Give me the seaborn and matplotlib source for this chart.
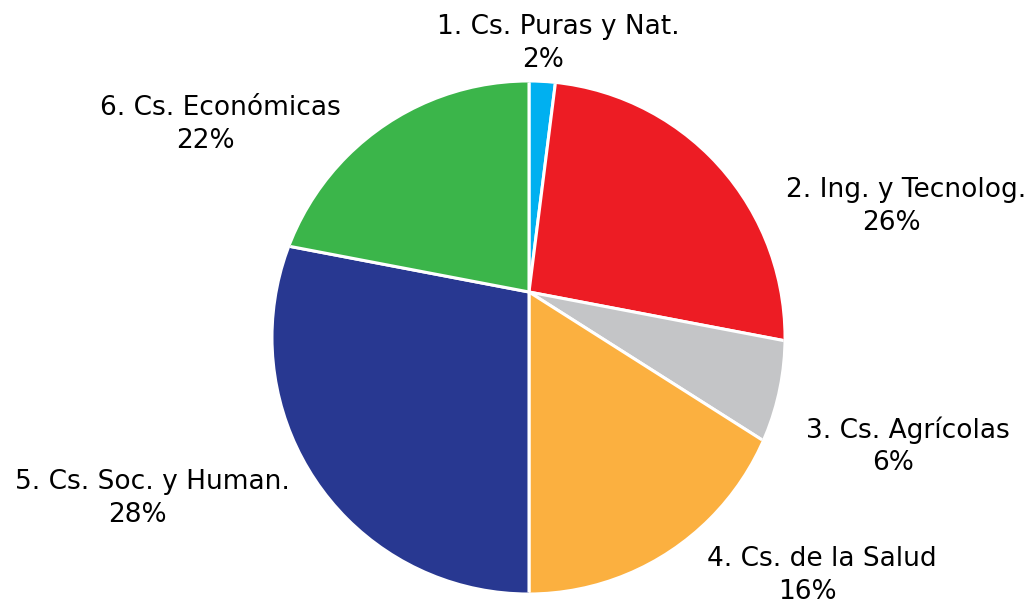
import matplotlib
matplotlib.use("Agg")
import matplotlib.pyplot as plt
from matplotlib.patches import Circle
import seaborn as sns

# ---- data ----
categories = ["1. Cs. Puras y Nat.", "2. Ing. y Tecnolog.", "3. Cs. Agrícolas",
              "4. Cs. de la Salud", "5. Cs. Soc. y Human.", "6. Cs. Económicas"]
values = [2, 26, 6, 16, 28, 22]
colors = ["#00B0F0", "#ED1C24", "#C4C5C7", "#FBB040", "#283891", "#3BB54A"]

# ---- layout (pixel-like coordinates, y measured upward) ----
W, H = 1034, 604
wedge_center = (529, H - 292)
outline_center = (528.5, H - 337.5)
outline_radius = 255
label_pos = [(558, H - 27), (906, H - 190), (908, H - 430),
             (822, H - 559), (152, H - 482), (220, H - 108)]
line_gap = 33
line2_dx = -15
fs = 19

sns.set_theme(style="white")
plt.rcParams['font.family'] = ['DejaVu Sans']

fig = plt.figure(figsize=(W / 100, H / 100), dpi=100)
ax = fig.add_axes([0, 0, 1, 1])

wedges, _ = ax.pie(values, colors=colors, startangle=90, counterclock=False,
                   center=wedge_center, radius=305,
                   wedgeprops=dict(edgecolor="white", linewidth=2.2))
clip = Circle(outline_center, outline_radius, transform=ax.transData)
for w in wedges:
    w.set_clip_on(True)
    w.set_clip_path(clip)

for cat, val, (x, y) in zip(categories, values, label_pos):
    ax.text(x, y, cat, ha="center", va="center", fontsize=fs, color="black")
    ax.text(x + line2_dx, y - line_gap, f"{val}%", ha="center", va="center",
            fontsize=fs, color="black")

ax.set_xlim(0, W)
ax.set_ylim(0, H)
ax.set_aspect("equal")
ax.axis("off")
fig.savefig("out.png", dpi=100, facecolor="white")
